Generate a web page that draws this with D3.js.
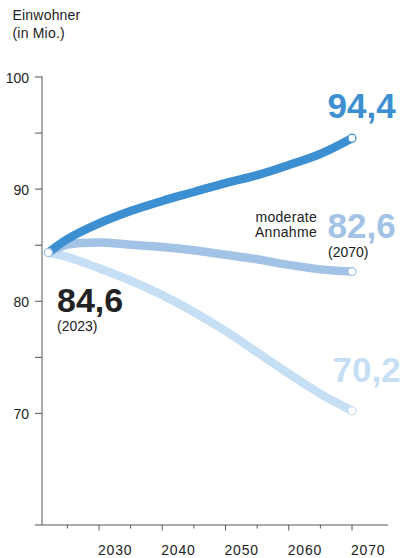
<!DOCTYPE html>
<html>
<head>
<meta charset="utf-8">
<script src="https://cdn.jsdelivr.net/npm/d3@7"></script>
<style>
  html, body { margin: 0; padding: 0; background: #fff; }
  text { font-family: "Liberation Sans", Arial, sans-serif; }
</style>
</head>
<body>
<script>
// Data (Mio. Einwohner)
const years = [2022, 2025, 2030, 2035, 2040, 2045, 2050, 2055, 2060, 2065, 2070];
const hoch = [84.3, 85.5, 86.9, 88.0, 88.9, 89.7, 90.5, 91.2, 92.1, 93.1, 94.5];
const moderat = [84.3, 85.0, 85.2, 85.0, 84.8, 84.5, 84.1, 83.7, 83.2, 82.8, 82.6];
const niedrig = [84.3, 83.9, 82.9, 81.8, 80.5, 79.0, 77.3, 75.4, 73.5, 71.7, 70.2];
const yTicks = [70, 80, 90, 100];
const yMinorTicks = [75, 85, 95];
const xTicks = [2030, 2040, 2050, 2060, 2070];
const xMinorTicks = [2025, 2035, 2045, 2055, 2065];

const series = [
    { name: "niedrig", values: niedrig, color: "#c7dff4" },
    { name: "moderat", values: moderat, color: "#a2c2e6" },
    { name: "hoch", values: hoch, color: "#3c8fd0" }
];

const width = 404, height = 558;

const svg = d3.select("body").append("svg")
    .attr("width", width)
    .attr("height", height);

// scales
const x = d3.scaleLinear().domain([2030, 2070]).range([99, 352]);
const y = d3.scaleLinear().domain([60, 100]).range([525, 76.5]);

const axisColor = "#555";

// y axis
const yAxis = d3.axisLeft(y)
    .tickValues(yTicks.concat(yMinorTicks))
    .tickSize(7)
    .tickSizeOuter(0)
    .tickPadding(6)
    .tickFormat(d => yTicks.includes(d) ? d : "");

const gy = svg.append("g")
    .attr("transform", "translate(42,0)")
    .call(yAxis);
gy.select(".domain").attr("stroke", axisColor).attr("d", `M0,${y(100)}V${y(60)}`);
gy.selectAll(".tick line").attr("stroke", axisColor);
gy.selectAll(".tick text")
    .attr("fill", "#222")
    .attr("font-size", 14)
    .attr("dy", "0.4em");

// x axis
const gx = svg.append("g")
    .attr("transform", `translate(0,${y(60)})`);
gx.append("line")
    .attr("x1", 35).attr("x2", 388)
    .attr("stroke", axisColor);
gx.selectAll(".minor")
    .data(xMinorTicks)
    .join("line")
    .attr("class", "minor")
    .attr("x1", d => x(d)).attr("x2", d => x(d))
    .attr("y1", 0).attr("y2", 3.5)
    .attr("stroke", axisColor);
gx.selectAll(".major")
    .data(xTicks)
    .join("line")
    .attr("class", "major")
    .attr("x1", d => x(d)).attr("x2", d => x(d))
    .attr("y1", 0).attr("y2", 5.5)
    .attr("stroke", axisColor);
gx.selectAll(".label")
    .data(xTicks)
    .join("text")
    .attr("class", "label")
    .attr("x", d => x(d) - 1)
    .attr("y", 30)
    .attr("font-size", 14)
    .attr("letter-spacing", 0.8)
    .attr("fill", "#222")
    .text(d => d);

// axis title
svg.append("text")
    .attr("x", 12.5).attr("y", 20)
    .attr("font-size", 14)
    .attr("letter-spacing", 0.2)
    .attr("fill", "#222")
    .text("Einwohner");
svg.append("text")
    .attr("x", 12.5).attr("y", 38)
    .attr("font-size", 14)
    .attr("letter-spacing", 0.2)
    .attr("fill", "#222")
    .text("(in Mio.)");

// lines
const line = d3.line()
    .x((d, i) => x(years[i]))
    .y(d => y(d))
    .curve(d3.curveCatmullRom.alpha(0.5));

series.forEach(s => {
    svg.append("path")
        .attr("d", line(s.values))
        .attr("fill", "none")
        .attr("stroke", s.color)
        .attr("stroke-width", 8.5)
        .attr("stroke-linecap", "round");
});

// end dots
series.forEach(s => {
    const last = s.values.length - 1;
    svg.append("circle")
        .attr("cx", x(years[last]))
        .attr("cy", y(s.values[last]))
        .attr("r", 4)
        .attr("fill", "#fff")
        .attr("stroke", s.color)
        .attr("stroke-width", 1.2);
});
// start dot
svg.append("circle")
    .attr("cx", x(years[0]))
    .attr("cy", y(hoch[0]))
    .attr("r", 4)
    .attr("fill", "#fff")
    .attr("stroke", "#a2c2e6")
    .attr("stroke-width", 1.2);

// value labels
svg.append("text")
    .attr("x", 327.5).attr("y", 117.5)
    .attr("font-size", 35).attr("font-weight", 700)
    .attr("fill", "#3c8fd0")
    .text("94,4");

svg.append("text")
    .attr("x", 327.5).attr("y", 237.5)
    .attr("font-size", 35).attr("font-weight", 700)
    .attr("fill", "#a2c2e6")
    .text("82,6");
svg.append("text")
    .attr("x", 317).attr("y", 221.5)
    .attr("text-anchor", "end")
    .attr("font-size", 14)
    .attr("letter-spacing", 0.3)
    .attr("fill", "#222")
    .text("moderate");
svg.append("text")
    .attr("x", 317).attr("y", 237)
    .attr("text-anchor", "end")
    .attr("font-size", 14)
    .attr("letter-spacing", 0.3)
    .attr("fill", "#222")
    .text("Annahme");
svg.append("text")
    .attr("x", 328).attr("y", 257)
    .attr("font-size", 14)
    .attr("fill", "#222")
    .text("(2070)");

svg.append("text")
    .attr("x", 332.5).attr("y", 381.5)
    .attr("font-size", 35).attr("font-weight", 700)
    .attr("fill", "#c7dff4")
    .text("70,2");

svg.append("text")
    .attr("x", 57).attr("y", 311.5)
    .attr("font-size", 34).attr("font-weight", 700)
    .attr("fill", "#222")
    .text("84,6");
svg.append("text")
    .attr("x", 57).attr("y", 331)
    .attr("font-size", 14)
    .attr("fill", "#222")
    .text("(2023)");
</script>
</body>
</html>
